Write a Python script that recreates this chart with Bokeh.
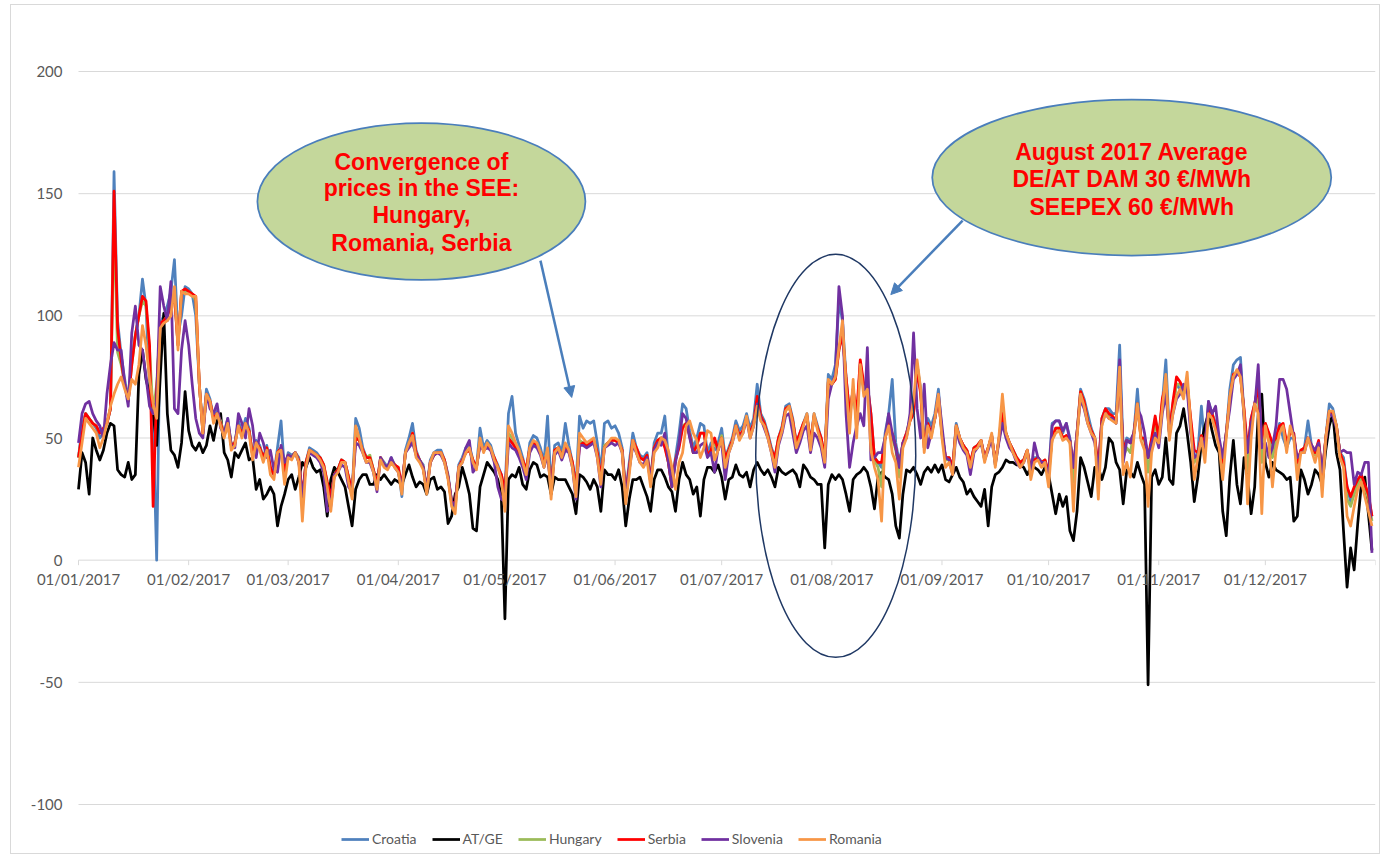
import pandas as pd
from bokeh.plotting import figure
from bokeh.models import (Range1d, Legend, LegendItem, Label,
                          Arrow, NormalHead, ColumnDataSource)
from bokeh.embed import file_html
from bokeh.resources import INLINE
from bokeh.core.properties import value

# ---------------- data (daily prices, EUR/MWh, 2017) ----------------
SERIES_NAMES = ["Croatia", "AT/GE", "Hungary", "Serbia", "Slovenia", "Romania"]
SERIES_COLORS = ["#4F81BD", "#000000", "#9BBB59", "#FF0000", "#7030A0", "#F79646"]

CROATIA = [
    42, 55, 60, 58, 56, 54, 50, 52, 56, 62, 159, 98, 84, 74, 66, 82, 92, 100, 115, 104, 70, 55, 0, 97, 100, 104, 110, 123, 92, 100, 112,
    111, 109, 100, 72, 53, 70, 66, 58, 61, 56, 52, 58, 47, 48, 57, 52, 58, 54, 43, 49, 47, 42, 47, 37, 35, 46, 57, 36,
    44, 43, 44, 42, 24, 40, 46, 45, 44, 42, 39, 30, 24, 36, 37, 41, 40, 34, 27, 58, 54, 46, 42, 42, 37, 30, 42, 40, 38, 42, 39,
    37, 26, 45, 50, 56, 45, 41, 39, 29, 41, 44, 45, 45, 41, 35, 24, 22, 39, 42, 46, 47, 41, 38, 54, 46, 49, 47, 42, 39, 35,
    28, 60, 67, 52, 47, 42, 36, 48, 51, 50, 46, 40, 59, 30, 47, 48, 44, 56, 47, 40, 30, 59, 54, 57, 56, 57, 48, 36, 56, 57, 54,
    55, 52, 46, 28, 40, 52, 46, 43, 42, 44, 33, 48, 52, 52, 59, 42, 32, 42, 52, 64, 62, 53, 46, 50, 56, 55, 44, 48, 45, 48,
    54, 42, 46, 50, 57, 53, 55, 60, 54, 58, 72, 60, 57, 52, 46, 42, 50, 55, 63, 64, 58, 48, 52, 56, 60, 48, 60, 55, 50, 42, 76,
    74, 80, 106, 98, 75, 60, 70, 56, 80, 70, 72, 60, 42, 40, 38, 52, 60, 74, 48, 40, 48, 52, 58, 60, 80, 70, 48, 58, 55, 60, 70,
    52, 42, 42, 38, 56, 50, 47, 45, 40, 46, 47, 49, 42, 46, 51, 40, 49, 58, 52, 48, 45, 42, 40, 41, 45, 37, 42, 42, 40, 40,
    36, 56, 57, 57, 52, 56, 50, 38, 52, 70, 66, 60, 54, 50, 36, 58, 62, 62, 60, 60, 88, 45, 50, 49, 52, 70, 50, 50, 42, 48, 58,
    50, 64, 82, 52, 64, 72, 70, 68, 72, 54, 42, 44, 63, 46, 65, 60, 56, 48, 40, 52, 70, 80, 82, 83, 60, 44, 58, 64, 72, 46,
    54, 52, 45, 50, 56, 50, 46, 50, 50, 40, 44, 46, 57, 47, 44, 48, 34, 50, 64, 62, 55, 44, 42, 30, 24, 28, 32, 34, 30, 26, 18,
]

AT_GE = [
    29, 44, 40, 27, 50, 45, 41, 45, 52, 56, 55, 37, 35, 34, 40, 33, 35, 76, 86, 74, 68, 60, 47, 75, 101, 60, 45, 43, 38, 48, 69,
    53, 47, 45, 48, 44, 47, 55, 49, 57, 60, 44, 41, 34, 44, 42, 45, 48, 41, 42, 29, 33, 25, 27, 30, 27, 14, 22, 27,
    33, 35, 29, 34, 40, 38, 42, 38, 36, 37, 30, 18, 33, 38, 36, 33, 30, 22, 14, 29, 33, 35, 35, 31, 31, 35, 33, 35, 33, 31, 33,
    32, 31, 35, 39, 34, 30, 32, 31, 27, 33, 34, 29, 30, 28, 15, 18, 27, 30, 38, 33, 27, 13, 12, 30, 35, 40, 38, 36, 33, 26,
    -24, 33, 35, 34, 38, 31, 29, 37, 40, 39, 34, 35, 34, 27, 34, 33, 33, 33, 30, 27, 19, 35, 34, 32, 29, 33, 30, 20, 37, 35, 35,
    33, 37, 30, 14, 25, 33, 33, 34, 30, 26, 20, 33, 37, 37, 34, 30, 28, 20, 33, 40, 35, 33, 27, 30, 18, 33, 38, 38, 36, 39,
    34, 25, 33, 34, 39, 35, 34, 36, 30, 37, 40, 37, 35, 37, 34, 30, 38, 36, 35, 36, 37, 35, 30, 39, 37, 34, 33, 31, 31, 5, 31,
    35, 33, 35, 33, 27, 20, 33, 35, 36, 38, 36, 30, 21, 34, 36, 34, 33, 27, 14, 9, 27, 37, 36, 38, 35, 31, 36, 38, 36, 39, 36,
    39, 33, 32, 35, 38, 34, 32, 27, 29, 26, 24, 22, 29, 14, 30, 35, 36, 38, 41, 40, 40, 39, 39, 38, 35, 38, 38, 37, 35, 38,
    35, 27, 19, 27, 22, 26, 12, 8, 20, 42, 38, 32, 26, 38, 38, 33, 38, 50, 48, 40, 37, 23, 37, 36, 34, 40, 35, 31, -51, 34, 37,
    31, 34, 50, 33, 31, 52, 55, 62, 52, 40, 24, 34, 48, 55, 60, 53, 47, 44, 20, 10, 34, 49, 31, 23, 42, 34, 19, 30, 60, 68,
    40, 34, 40, 37, 36, 35, 33, 34, 16, 18, 37, 33, 27, 31, 37, 35, 31, 45, 55, 60, 44, 37, 12, -11, 5, -4, 15, 31, 34, 19, 4,
]

HUNGARY = [
    42, 52, 60, 58, 56, 55, 52, 54, 56, 62, 140, 85, 80, 72, 65, 80, 92, 100, 106, 104, 86, 60, 72, 97, 98, 100, 104, 108, 88, 110, 110,
    110, 109, 106, 72, 52, 68, 65, 58, 60, 57, 51, 56, 47, 48, 55, 52, 56, 53, 43, 48, 46, 42, 46, 38, 35, 44, 46, 36,
    43, 42, 44, 41, 24, 40, 45, 44, 43, 42, 39, 32, 24, 35, 37, 41, 40, 34, 27, 52, 49, 45, 42, 43, 37, 31, 42, 39, 38, 41, 39,
    38, 29, 44, 47, 52, 44, 41, 38, 28, 40, 43, 44, 44, 41, 34, 23, 21, 38, 41, 44, 45, 41, 38, 48, 45, 47, 45, 42, 38, 34,
    25, 52, 50, 47, 44, 41, 36, 46, 48, 47, 44, 40, 45, 28, 45, 46, 43, 47, 45, 40, 28, 49, 48, 47, 48, 49, 44, 33, 47, 48, 49,
    49, 48, 45, 26, 37, 49, 46, 42, 41, 43, 32, 46, 49, 50, 47, 40, 30, 41, 47, 55, 56, 51, 44, 47, 52, 52, 43, 45, 48, 45,
    51, 41, 45, 49, 55, 51, 53, 58, 52, 56, 66, 59, 56, 51, 45, 41, 50, 54, 62, 63, 57, 47, 51, 56, 59, 47, 59, 54, 49, 41, 73,
    72, 74, 86, 94, 74, 58, 70, 56, 81, 70, 71, 58, 41, 38, 30, 50, 56, 50, 45, 34, 47, 51, 57, 61, 80, 69, 46, 56, 51, 58, 67,
    51, 41, 41, 37, 55, 50, 47, 45, 39, 46, 47, 49, 41, 46, 51, 39, 49, 62, 52, 48, 45, 42, 40, 41, 45, 36, 41, 42, 40, 41,
    34, 50, 54, 54, 50, 51, 49, 32, 52, 69, 65, 57, 53, 50, 33, 57, 61, 59, 58, 57, 76, 42, 46, 44, 52, 64, 50, 49, 36, 48, 56,
    49, 65, 73, 51, 63, 72, 72, 68, 73, 57, 40, 43, 51, 45, 62, 60, 55, 48, 38, 52, 66, 76, 77, 76, 61, 36, 55, 64, 66, 40,
    56, 51, 42, 48, 54, 55, 47, 53, 52, 38, 45, 46, 50, 47, 43, 48, 32, 50, 61, 60, 55, 44, 40, 25, 22, 27, 31, 34, 30, 25, 16,
]

SERBIA = [
    42, 52, 60, 58, 56, 55, 52, 54, 56, 62, 151, 95, 82, 72, 65, 80, 92, 100, 108, 106, 88, 22, 70, 97, 98, 100, 104, 108, 88, 110, 111,
    110, 109, 108, 72, 52, 68, 65, 58, 60, 56, 51, 56, 47, 48, 55, 52, 56, 53, 43, 48, 46, 42, 46, 38, 35, 44, 46, 36,
    43, 42, 44, 41, 26, 40, 45, 44, 43, 42, 39, 32, 26, 35, 37, 41, 40, 34, 28, 50, 49, 45, 42, 42, 37, 31, 42, 39, 38, 41, 39,
    38, 30, 44, 47, 52, 44, 41, 38, 29, 40, 43, 44, 44, 41, 34, 24, 23, 38, 41, 44, 45, 41, 38, 48, 45, 47, 45, 42, 38, 35,
    28, 50, 48, 46, 44, 41, 37, 46, 48, 47, 44, 40, 44, 30, 45, 46, 43, 46, 45, 40, 30, 47, 48, 47, 48, 49, 44, 34, 46, 48, 49,
    49, 48, 45, 27, 38, 49, 46, 42, 41, 43, 33, 46, 49, 50, 46, 40, 30, 41, 46, 54, 56, 51, 44, 47, 52, 52, 43, 45, 50, 45,
    50, 42, 45, 49, 55, 51, 53, 58, 52, 56, 67, 59, 56, 51, 45, 42, 50, 54, 62, 63, 57, 48, 52, 56, 59, 48, 59, 54, 50, 42, 73,
    72, 74, 86, 92, 75, 60, 70, 60, 82, 72, 72, 60, 42, 40, 40, 50, 56, 52, 46, 38, 48, 52, 57, 60, 78, 68, 46, 56, 52, 58, 66,
    52, 42, 42, 38, 55, 50, 47, 45, 40, 46, 47, 49, 42, 46, 51, 40, 49, 60, 52, 48, 45, 42, 40, 41, 45, 37, 41, 42, 40, 41,
    36, 50, 54, 54, 50, 51, 49, 38, 52, 69, 65, 57, 53, 50, 38, 58, 62, 60, 59, 57, 75, 45, 49, 48, 52, 64, 50, 50, 42, 50, 59,
    50, 66, 72, 52, 65, 75, 73, 70, 72, 58, 45, 44, 51, 47, 62, 60, 55, 48, 40, 52, 66, 76, 77, 75, 62, 45, 58, 64, 71, 50,
    56, 52, 48, 50, 55, 56, 48, 52, 52, 40, 45, 46, 50, 47, 44, 49, 35, 50, 61, 60, 55, 44, 40, 30, 26, 30, 33, 35, 31, 27, 18,
]

SLOVENIA = [
    48, 60, 64, 65, 60, 57, 55, 50, 68, 80, 89, 86, 86, 72, 63, 93, 104, 88, 86, 75, 63, 60, 65, 112, 104, 98, 114, 62, 60, 86, 98,
    88, 72, 58, 52, 50, 68, 62, 60, 64, 54, 52, 58, 47, 46, 60, 56, 50, 62, 55, 42, 52, 48, 42, 45, 37, 36, 47, 40,
    43, 42, 44, 40, 26, 38, 44, 43, 42, 40, 36, 20, 22, 35, 36, 39, 38, 30, 28, 48, 47, 44, 40, 40, 36, 28, 42, 39, 38, 42, 38,
    36, 29, 44, 46, 48, 43, 41, 38, 28, 40, 43, 44, 43, 40, 34, 24, 22, 38, 40, 46, 49, 36, 38, 47, 45, 46, 45, 40, 30, 25,
    24, 48, 46, 45, 42, 38, 33, 44, 47, 46, 43, 38, 43, 29, 43, 45, 41, 45, 44, 38, 25, 47, 47, 46, 47, 48, 42, 30, 46, 47, 48,
    47, 48, 44, 26, 37, 47, 44, 40, 39, 42, 32, 45, 48, 47, 52, 40, 30, 40, 48, 60, 58, 50, 44, 44, 47, 48, 42, 44, 36, 46,
    48, 33, 44, 48, 54, 50, 52, 58, 50, 55, 64, 58, 54, 50, 44, 36, 47, 52, 59, 60, 52, 44, 48, 53, 55, 44, 52, 50, 46, 38, 66,
    72, 76, 112, 100, 60, 38, 48, 55, 60, 55, 87, 41, 42, 44, 44, 50, 60, 52, 46, 38, 48, 50, 60, 93, 62, 50, 72, 46, 52, 58, 68,
    55, 42, 41, 35, 53, 48, 45, 43, 35, 44, 46, 48, 41, 45, 50, 39, 48, 56, 50, 46, 44, 40, 38, 40, 44, 36, 48, 42, 40, 40,
    34, 55, 57, 57, 53, 56, 49, 38, 52, 66, 62, 56, 52, 48, 36, 56, 60, 58, 58, 56, 82, 40, 49, 48, 52, 62, 59, 52, 42, 48, 52,
    46, 60, 68, 52, 60, 66, 68, 72, 70, 52, 42, 43, 50, 46, 65, 60, 63, 50, 42, 52, 62, 74, 76, 80, 58, 44, 56, 62, 80, 46,
    48, 42, 46, 55, 74, 74, 70, 60, 50, 42, 44, 44, 50, 47, 45, 48, 36, 49, 60, 59, 54, 44, 45, 44, 44, 31, 36, 35, 40, 40, 3,
]

ROMANIA = [
    38, 48, 58, 56, 54, 52, 46, 50, 56, 63, 68, 72, 75, 70, 66, 74, 72, 80, 96, 88, 74, 64, 58, 95, 97, 98, 100, 112, 86, 110, 109,
    109, 108, 108, 72, 52, 68, 65, 56, 60, 55, 50, 56, 45, 47, 55, 50, 56, 52, 41, 48, 45, 40, 45, 35, 33, 44, 45, 31,
    42, 41, 44, 40, 16, 38, 45, 44, 43, 41, 38, 30, 20, 34, 36, 40, 40, 32, 25, 55, 50, 44, 40, 41, 36, 29, 41, 38, 37, 40, 38,
    36, 27, 44, 48, 51, 42, 40, 37, 27, 40, 44, 44, 44, 40, 33, 22, 19, 38, 40, 44, 46, 40, 37, 50, 44, 48, 46, 41, 38, 33,
    20, 55, 52, 48, 45, 40, 35, 46, 49, 48, 44, 38, 46, 25, 44, 46, 42, 48, 45, 38, 26, 52, 50, 48, 49, 50, 42, 31, 46, 48, 50,
    50, 49, 44, 23, 35, 49, 44, 40, 38, 41, 30, 44, 46, 50, 49, 45, 38, 29, 40, 44, 55, 57, 52, 49, 42, 46, 53, 52, 41, 45,
    50, 38, 44, 48, 55, 49, 52, 59, 50, 55, 63, 57, 55, 50, 44, 38, 48, 53, 61, 63, 56, 46, 50, 55, 60, 45, 60, 53, 48, 40, 74,
    72, 75, 87, 98, 72, 52, 74, 50, 80, 67, 70, 45, 38, 33, 16, 50, 55, 44, 40, 25, 46, 50, 57, 65, 82, 70, 44, 55, 50, 58, 68,
    50, 38, 40, 35, 55, 50, 46, 44, 38, 45, 46, 49, 40, 46, 52, 38, 50, 68, 52, 48, 44, 41, 38, 40, 45, 33, 40, 41, 38, 40,
    30, 49, 52, 53, 49, 50, 48, 20, 50, 68, 63, 56, 52, 50, 25, 55, 60, 58, 57, 56, 79, 35, 40, 34, 50, 64, 49, 45, 22, 44, 50,
    48, 62, 76, 49, 60, 67, 70, 66, 77, 55, 33, 42, 50, 40, 60, 58, 53, 46, 33, 50, 67, 75, 78, 75, 60, 23, 50, 64, 60, 19,
    55, 48, 30, 45, 52, 55, 44, 55, 50, 33, 44, 44, 50, 45, 40, 46, 26, 50, 61, 61, 55, 42, 38, 18, 14, 22, 29, 32, 26, 20, 14,
]

DATES = pd.date_range("2017-01-01", "2017-12-31", freq="D")

TICK_DATES = ["2017-01-01", "2017-02-01", "2017-03-01", "2017-04-01", "2017-05-01", "2017-06-01",
              "2017-07-01", "2017-08-01", "2017-09-01", "2017-10-01", "2017-11-01", "2017-12-01",
              "2018-01-01"]
TICK_LABELS = ["01/01/2017", "01/02/2017", "01/03/2017", "01/04/2017", "01/05/2017", "01/06/2017",
               "01/07/2017", "01/08/2017", "01/09/2017", "01/10/2017", "01/11/2017", "01/12/2017", ""]
Y_TICKS = [-100, -50, 0, 50, 100, 150, 200]

NOTE_1 = ["Convergence of", "prices in the SEE:", "Hungary,", "Romania, Serbia"]
NOTE_2 = ["August 2017 Average", "DE/AT DAM 30 \u20ac/MWh", "SEEPEX 60 \u20ac/MWh"]

ALL = [CROATIA, AT_GE, HUNGARY, SERBIA, SLOVENIA, ROMANIA]
for name, s in zip(SERIES_NAMES, ALL):
    if len(s) != len(DATES):
        raise ValueError(f"{name}: {len(s)} values")

# ---------------- helpers ----------------
DAY_MS = 86400000.0
T0 = pd.Timestamp("2017-01-01").value / 1e6


def at_day(d):
    return T0 + d * DAY_MS


def ms(s):
    return pd.Timestamp(s).value / 1e6


# ---------------- figure ----------------
FONT = "Lato"
GREY_TXT = "#595959"
GRID = "#D9D9D9"
PX_PER_UNIT = 733 / 300.0
PX_PER_DAY = 1297 / 365.0
LEFT_PAD_DAYS = 67 / PX_PER_DAY      # room left of 1 Jan for the value labels
TOP_PAD = 66 / PX_PER_UNIT           # room above 200 (frame starts at canvas top)
BOTTOM_PAD = 51 / PX_PER_UNIT        # room below -100 for the legend

X_START = ms("2017-01-01")
X_END = ms("2018-01-01")

p = figure(width=1370, height=850, output_backend="svg", toolbar_location=None,
           x_axis_type=None, y_axis_type=None,
           x_range=Range1d(X_START - LEFT_PAD_DAYS * DAY_MS, X_END),
           y_range=Range1d(-100 - BOTTOM_PAD, 200 + TOP_PAD),
           min_border_left=0, min_border_right=6, min_border_top=0, min_border_bottom=0,
           background_fill_color="white", border_fill_color="white", outline_line_color=None)

# value axis: gridlines + labels
p.segment(x0=[X_START] * len(Y_TICKS), x1=[X_END] * len(Y_TICKS), y0=Y_TICKS, y1=Y_TICKS,
          line_color=GRID, line_width=1)
for yv in Y_TICKS:
    p.add_layout(Label(x=X_START, y=yv, text=str(yv), x_offset=-16, text_align="right",
                       text_baseline="middle", text_font=FONT, text_font_size="15px",
                       text_color=GREY_TXT))

# date axis on the zero line: ticks + labels
tick_ms = [ms(t) for t in TICK_DATES]
p.segment(x0=tick_ms, y0=[0] * len(tick_ms), x1=tick_ms, y1=[-5 / PX_PER_UNIT] * len(tick_ms),
          line_color=GRID, line_width=1)
for t, lab in zip(tick_ms, TICK_LABELS):
    if lab:
        p.add_layout(Label(x=t, y=0, text=lab, y_offset=-10, text_align="center", text_baseline="top",
                           text_font=FONT, text_font_size="15px", text_color=GREY_TXT))

renderers = []
for name, color, s in zip(SERIES_NAMES, SERIES_COLORS, ALL):
    src = ColumnDataSource(dict(x=DATES, y=s))
    r = p.line("x", "y", source=src, line_color=color, line_width=2.75, line_join="round")
    renderers.append(r)

legend = Legend(items=[LegendItem(label=n, renderers=[r]) for n, r in zip(SERIES_NAMES, renderers)],
                orientation="horizontal", location=(330, 8),
                border_line_color=None, background_fill_alpha=0,
                label_text_font=FONT, label_text_font_size="14px", label_text_color=GREY_TXT,
                glyph_width=28, glyph_height=14, label_standoff=3, spacing=15,
                padding=2, margin=0)
p.add_layout(legend)

# ---------------- annotations ----------------
BLUE = "#4A7EBB"
p.ellipse(x=[at_day(213.1)], y=[42.7], width=160, height=403, width_units="screen", height_units="screen",
          fill_color=None, line_color="#1F3864", line_width=1.5)

p.add_layout(Arrow(x_start=at_day(130.0), y_start=122.6, x_end=at_day(138.8), y_end=66.6,
                   line_color=BLUE, line_width=2.5,
                   end=NormalHead(size=11, fill_color=BLUE, line_color=BLUE)))
p.add_layout(Arrow(x_start=at_day(248.8), y_start=139.0, x_end=at_day(228.6), y_end=108.7,
                   line_color=BLUE, line_width=2.5,
                   end=NormalHead(size=11, fill_color=BLUE, line_color=BLUE)))

c1 = p.ellipse(x=[at_day(96.5)], y=[146.8], width=328, height=157, width_units="screen", height_units="screen",
               fill_color="#C4D79B", line_color=BLUE, line_width=1.75)
c2 = p.ellipse(x=[at_day(296.4)], y=[156.6], width=399, height=156, width_units="screen", height_units="screen",
               fill_color="#C4D79B", line_color=BLUE, line_width=1.75)
c1.level = "overlay"
c2.level = "overlay"

t1 = p.text(x=[at_day(96.5)] * 4, y=[146.8] * 4, text=NOTE_1, y_offset=[-39, -13, 14, 42],
            text_align="center", text_baseline="middle", text_font=value("Liberation Sans"),
            text_font_style="bold", text_font_size="23px", text_color="#FF0000")
t2 = p.text(x=[at_day(296.4)] * 3, y=[156.6] * 3, text=NOTE_2, y_offset=[-26, 1, 29],
            text_align="center", text_baseline="middle", text_font=value("Liberation Sans"),
            text_font_style="bold", text_font_size="23px", text_color="#FF0000")
t1.level = "overlay"
t2.level = "overlay"

p.styles = {"border": "1px solid #D9D9D9", "margin-left": "10px", "margin-top": "4px"}

open("out.html", "w").write(file_html(p, INLINE))
